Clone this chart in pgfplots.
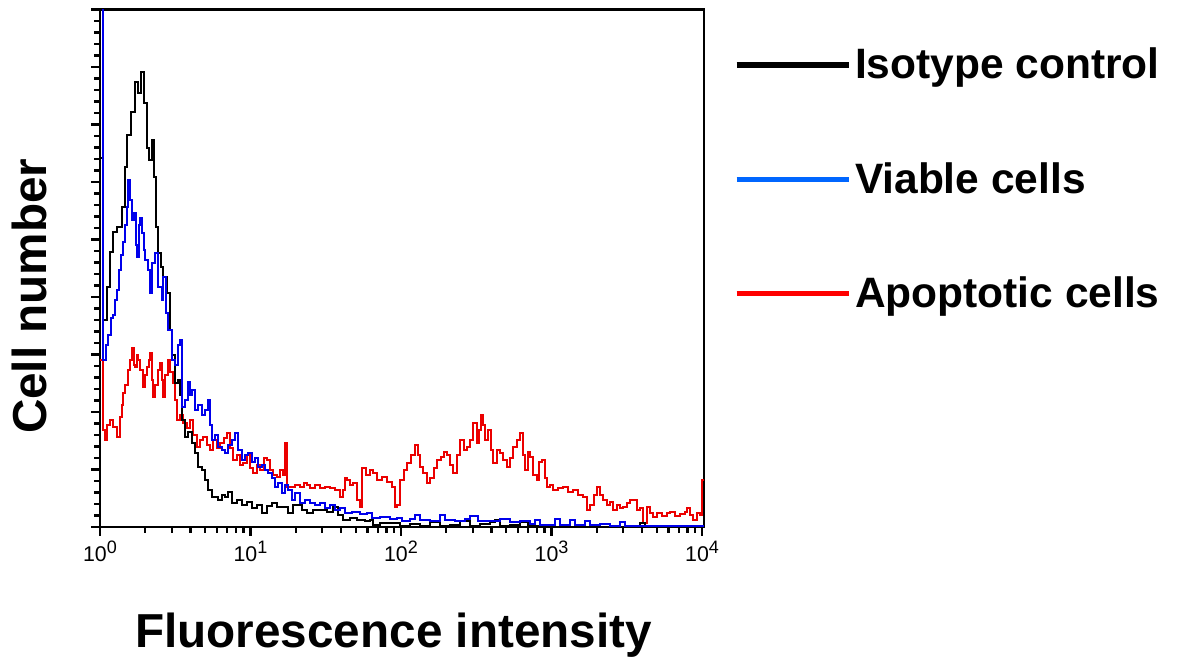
\documentclass[border=0pt]{standalone}
\usepackage{fontspec}
\setmainfont{Liberation Sans}
\usepackage{pgfplots}
\pgfplotsset{compat=1.18}
\definecolor{plotblue}{RGB}{0,0,235}
\definecolor{plotred}{RGB}{235,0,0}
\definecolor{legblue}{RGB}{0,102,255}
\definecolor{legred}{RGB}{255,0,0}
\newcommand{\tenp}[1]{10\raisebox{2.4pt}{\fontsize{5.4}{6}\selectfont #1}}
\begin{document}
\begin{tikzpicture}
\useasboundingbox (0,0) rectangle (354.3pt,198pt);
\begin{axis}[
  at={(30pt,39.9pt)}, anchor=south west,
  scale only axis, width=181.2pt, height=155.25pt,
  xmode=log, xmin=1, xmax=10310, ymin=0, ymax=517.5,
  xtick={1,10,100,1000,10000},
  xticklabels={\tenp{0},\tenp{1},\tenp{2},\tenp{3},\tenp{4}},
  minor xtick={2,3,4,5,6,7,8,9,20,30,40,50,60,70,80,90,200,300,400,500,600,700,800,900,2000,3000,4000,5000,6000,7000,8000,9000},
  ytick={0,57.5,...,517.5}, yticklabels={},
  minor y tick num=4,
  xtick pos=left, ytick pos=left,
  tick align=outside,
  major tick length=2.6pt, minor tick length=1.8pt,
  every tick/.style={black, line width=0.7pt},
  axis line style={line width=0.8pt},
  xticklabel style={font=\fontsize{6.4}{7}\selectfont, inner sep=0pt, anchor=north, yshift=-1.4pt},
  xlabel={Fluorescence intensity}, ylabel={Cell number},
  every axis x label/.style={at={(axis description cs:0.486,-0.1643)}, anchor=north, inner sep=0pt, font=\fontsize{14.3}{16}\selectfont\bfseries},
  every axis y label/.style={at={(axis description cs:-0.0861,0.446)}, rotate=90, anchor=south, inner sep=0pt, font=\fontsize{14.3}{16}\selectfont\bfseries},
  legend style={at={(axis description cs:1.048,0.941)}, anchor=north west, draw=none, fill=none, inner sep=0pt, row sep=19.95pt, column sep=1pt, font=\fontsize{12.75}{14}\selectfont\bfseries, nodes={inner sep=0pt, text height=11.4pt, text depth=3pt}},
  legend cell align=left,
  legend image code/.code={\draw[#1] (0pt,0pt) -- (33.6pt,0pt);},
]
\addplot[plotred, const plot, line width=0.55pt, forget plot] table[x expr={10^(\thisrow{l})}, y=y, row sep=\\] {
l y\\ 0 167\\ .020 97\\ .033 87\\ .047 102\\ .066 107\\ .086 100\\ .113 90\\ .133 110\\ .146 122\\ .153 134\\ .166 142\\ .186 157\\ .199 167\\ .213 179\\ .226 162\\ .233 160\\ .246 172\\ .252 167\\ .266 157\\ .286 140\\ .299 152\\ .312 160\\ .326 167\\ .332 174\\ .346 147\\ .352 130\\ .365 142\\ .385 157\\ .399 164\\ .412 147\\ .419 130\\ .432 152\\ .452 167\\ .465 155\\ .485 144\\ .498 127\\ .512 107\\ .532 112\\ .551 104\\ .578 99\\ .598 107\\ .618 92\\ .645 80\\ .664 87\\ .684 90\\ .711 82\\ .731 77\\ .751 87\\ .777 79\\ .797 84\\ .824 89\\ .844 94\\ .864 79\\ .884 67\\ .910 72\\ .930 62\\ .950 64\\ .977 72\\ .997 59\\ 1.017 54\\ 1.043 62\\ 1.063 57\\ 1.090 69\\ 1.110 67\\ 1.130 57\\ 1.150 52\\ 1.176 50\\ 1.196 57\\ 1.216 52\\ 1.229 84\\ 1.243 40\\ 1.262 40\\ 1.296 42\\ 1.329 40\\ 1.355 44\\ 1.375 42\\ 1.395 39\\ 1.429 42\\ 1.462 39\\ 1.495 40\\ 1.528 39\\ 1.561 37\\ 1.595 30\\ 1.615 37\\ 1.628 49\\ 1.641 47\\ 1.661 42\\ 1.681 44\\ 1.708 27\\ 1.728 20\\ 1.741 59\\ 1.767 52\\ 1.794 57\\ 1.814 54\\ 1.841 47\\ 1.874 50\\ 1.907 45\\ 1.940 40\\ 1.960 20\\ 1.973 22\\ 1.993 47\\ 2.020 57\\ 2.040 64\\ 2.066 72\\ 2.093 82\\ 2.113 72\\ 2.126 60\\ 2.146 54\\ 2.173 44\\ 2.193 49\\ 2.219 59\\ 2.239 67\\ 2.266 70\\ 2.286 75\\ 2.306 72\\ 2.326 62\\ 2.346 54\\ 2.372 72\\ 2.392 87\\ 2.419 77\\ 2.439 80\\ 2.458 87\\ 2.478 104\\ 2.505 84\\ 2.518 97\\ 2.532 112\\ 2.545 102\\ 2.558 87\\ 2.578 97\\ 2.598 77\\ 2.611 64\\ 2.638 77\\ 2.658 74\\ 2.678 67\\ 2.704 60\\ 2.724 69\\ 2.744 80\\ 2.771 87\\ 2.791 94\\ 2.811 72\\ 2.824 57\\ 2.844 75\\ 2.857 70\\ 2.877 52\\ 2.904 47\\ 2.917 65\\ 2.937 67\\ 2.957 49\\ 2.970 40\\ 2.990 42\\ 3.010 37\\ 3.043 39\\ 3.076 40\\ 3.110 35\\ 3.143 37\\ 3.176 32\\ 3.209 30\\ 3.236 17\\ 3.256 22\\ 3.282 32\\ 3.302 40\\ 3.322 32\\ 3.342 27\\ 3.369 22\\ 3.389 25\\ 3.409 17\\ 3.435 22\\ 3.455 19\\ 3.475 20\\ 3.502 24\\ 3.522 27\\ 3.542 27\\ 3.568 17\\ 3.588 19\\ 3.608 4\\ 3.635 20\\ 3.654 14\\ 3.674 10\\ 3.701 14\\ 3.734 11\\ 3.767 14\\ 3.787 15\\ 3.821 11\\ 3.854 13\\ 3.887 15\\ 3.900 19\\ 3.920 12\\ 3.940 7\\ 3.967 14\\ 3.987 12\\ 4.000 47\\ 4.013 47\\
};
\addplot[black, const plot, line width=0.55pt, forget plot] table[x expr={10^(\thisrow{l})}, y=y, row sep=\\] {
l y\\ 0 369\\ .020 207\\ .047 240\\ .066 275\\ .086 295\\ .113 300\\ .146 320\\ .166 360\\ .179 392\\ .206 415\\ .233 445\\ .252 434\\ .272 455\\ .292 424\\ .312 379\\ .326 367\\ .346 387\\ .359 350\\ .372 300\\ .385 274\\ .405 260\\ .419 250\\ .445 234\\ .465 197\\ .478 172\\ .498 144\\ .518 147\\ .532 132\\ .545 107\\ .565 90\\ .585 95\\ .611 84\\ .631 74\\ .651 60\\ .678 57\\ .698 47\\ .718 37\\ .744 30\\ .784 27\\ .811 32\\ .831 30\\ .850 35\\ .877 24\\ .910 27\\ .944 22\\ .977 25\\ 1.010 19\\ 1.043 22\\ 1.076 14\\ 1.110 21\\ 1.143 24\\ 1.176 20\\ 1.209 20\\ 1.249 14\\ 1.282 22\\ 1.309 22\\ 1.342 17\\ 1.375 14\\ 1.415 17\\ 1.462 17\\ 1.508 15\\ 1.548 20\\ 1.581 12\\ 1.615 7\\ 1.661 9\\ 1.708 7\\ 1.761 6\\ 1.794 7\\ 1.814 2\\ 1.860 4\\ 1.927 4\\ 1.993 1\\ 2.060 3\\ 2.126 1\\ 2.193 5\\ 2.259 1\\ 2.326 2\\ 2.392 6\\ 2.458 1\\ 2.525 3\\ 2.591 5\\ 2.625 7\\ 2.658 1\\ 2.724 2\\ 2.791 5\\ 2.844 1\\ 2.924 0\\ 3.588 4\\ 3.621 0\\ 4.013 0\\
};
\addplot[plotblue, const plot, line width=0.55pt, forget plot] table[x expr={10^(\thisrow{l})}, y=y, row sep=\\] {
l y\\ 0 560\\ .020 167\\ .040 182\\ .053 192\\ .073 209\\ .086 212\\ .100 227\\ .113 237\\ .126 257\\ .140 272\\ .153 285\\ .166 302\\ .179 320\\ .186 347\\ .199 327\\ .213 307\\ .226 314\\ .239 282\\ .246 270\\ .259 302\\ .266 309\\ .279 294\\ .292 277\\ .299 267\\ .319 257\\ .332 234\\ .346 264\\ .365 274\\ .385 240\\ .412 227\\ .419 250\\ .439 214\\ .452 197\\ .478 167\\ .498 162\\ .518 182\\ .532 187\\ .545 120\\ .565 127\\ .585 145\\ .598 132\\ .611 137\\ .631 117\\ .651 122\\ .678 112\\ .698 117\\ .718 127\\ .731 102\\ .744 87\\ .764 92\\ .784 80\\ .811 77\\ .831 74\\ .850 82\\ .877 87\\ .897 94\\ .917 77\\ .944 67\\ .963 72\\ .983 74\\ 1.010 65\\ 1.030 69\\ 1.050 60\\ 1.076 62\\ 1.096 57\\ 1.116 54\\ 1.143 49\\ 1.163 40\\ 1.183 44\\ 1.209 34\\ 1.229 42\\ 1.249 37\\ 1.276 27\\ 1.296 34\\ 1.329 24\\ 1.362 27\\ 1.395 24\\ 1.429 22\\ 1.462 24\\ 1.495 19\\ 1.528 22\\ 1.561 17\\ 1.595 19\\ 1.628 14\\ 1.674 15\\ 1.728 13\\ 1.774 14\\ 1.807 9\\ 1.860 10\\ 1.927 8\\ 1.973 9\\ 2.007 6\\ 2.060 8\\ 2.093 12\\ 2.126 7\\ 2.193 6\\ 2.259 12\\ 2.292 7\\ 2.359 6\\ 2.425 8\\ 2.458 11\\ 2.512 6\\ 2.591 6\\ 2.658 8\\ 2.724 5\\ 2.791 6\\ 2.857 3\\ 2.890 7\\ 2.924 2\\ 2.990 2\\ 3.023 8\\ 3.056 2\\ 3.123 7\\ 3.156 2\\ 3.223 6\\ 3.256 2\\ 3.322 3\\ 3.389 1\\ 3.455 5\\ 3.488 1\\ 4.013 1\\
};
\addlegendimage{black, line width=1.8pt}
\addlegendentry{Isotype control}
\addlegendimage{legblue, line width=1.5pt}
\addlegendentry{Viable cells}
\addlegendimage{legred, line width=1.5pt}
\addlegendentry{Apoptotic cells}
\end{axis}
\end{tikzpicture}
\end{document}
